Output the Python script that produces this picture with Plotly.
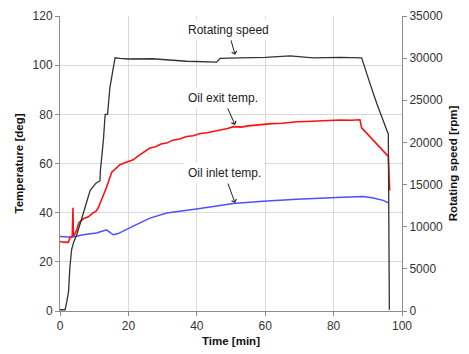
import plotly.graph_objects as go

# Rotating speed [rpm] (right axis)
speed_t = [0, 1.5, 2.0, 2.5, 2.9, 3.4, 4.0, 4.9, 6.0, 6.8, 8.0, 8.8, 10.5, 11.7, 11.8, 12.7, 13.2, 13.9,
           14.6, 15.3, 15.6, 16.1, 17.5, 20, 27, 37, 45.8, 46.8, 52.6, 60, 67.3, 74, 81.9, 88.2, 90.6,
           92.6, 95.5, 96.0, 96.3]
speed_rpm = [150, 150, 1140, 2330, 5250, 7290, 8170, 9040, 10500, 11670, 13130, 14290, 15170, 15460,
             16630, 20300, 23330, 23330, 26540, 28290, 28880, 30040, 29980, 29900, 29930, 29630, 29520,
             29980, 30040, 30100, 30280, 30040, 30100, 30040, 27040, 24650, 21500, 21000, 150]

# Oil exit temperature [deg]
exit_t = [0, 1, 2.4, 3.0, 3.6, 3.8, 3.9, 4.2, 4.9, 5.5, 6.8, 8.3, 9.7, 10.5, 11.2, 12.7, 13.6, 15.1, 15.6,
          16.5, 17.5, 19, 21.4, 23, 24.5, 26.3, 28, 29.5, 31.2, 33, 35, 37, 39, 41, 43, 44.8, 47, 49, 50.7,
          53, 55, 57, 59.4, 62, 65, 67, 69.2, 72, 75, 77, 79, 82, 85, 87.7, 88.2, 90.6, 93.6, 95.5, 96, 96.4]
exit_temp = [28.3, 28, 27.9, 30, 30.5, 42, 30.5, 31, 33, 35.8, 37.5, 38.3, 40, 40.5, 42, 46.8, 50.2, 56.4, 57,
             58.2, 59.5, 60.3, 61.5, 63.2, 64.5, 66.3, 66.8, 67.9, 68.3, 69.5, 70, 71, 71.3, 72.2, 72.5, 73,
             73.6, 74.2, 75, 74.8, 75.3, 75.6, 75.7, 76.2, 76.4, 76.8, 77, 77.1, 77.3, 77.6, 77.5, 77.7, 77.6,
             77.8, 74.5, 71, 66.3, 63.5, 62.9, 49]

# Oil inlet temperature [deg]
inlet_t = [0, 3.4, 6.8, 10.7, 13.6, 14.5, 15.6, 17, 19, 21.4, 26.3, 31.2, 39.9, 50.7, 59.4, 69.2, 80.9,
           88.7, 91.6, 94.5, 96]
inlet_temp = [30.3, 30, 31, 31.7, 33, 32, 31, 31.5, 33, 34.5, 37.8, 39.9, 41.5, 43.7, 44.6, 45.5, 46.2,
              46.6, 46, 45, 44]

temp_ticks = [0, 20, 40, 60, 80, 100, 120]
speed_ticks = [0, 5000, 10000, 15000, 20000, 25000, 30000, 35000]
time_ticks = [0, 20, 40, 60, 80, 100]

FONT = "Liberation Sans, Arial, sans-serif"

fig = go.Figure()
fig.add_trace(go.Scatter(x=speed_t, y=speed_rpm, mode="lines", yaxis="y2",
                         line=dict(color="#333333", width=1.3), name="Rotating speed"))
fig.add_trace(go.Scatter(x=inlet_t, y=inlet_temp, mode="lines",
                         line=dict(color="#4f4fff", width=1.5), name="Oil inlet temp."))
fig.add_trace(go.Scatter(x=exit_t, y=exit_temp, mode="lines",
                         line=dict(color="#ff1010", width=1.6), name="Oil exit temp."))

ann_style = dict(showarrow=True, arrowhead=4, arrowsize=1, arrowwidth=1, arrowcolor="#222222",
                 font=dict(family=FONT, size=12, color="#222222"), bgcolor="white",
                 borderpad=3, xref="x", yref="y")
fig.add_annotation(x=51.2, y=104.2, ax=-7, ay=-25, text="Rotating speed", **ann_style)
fig.add_annotation(x=51.2, y=75.7, ax=-12, ay=-27, text="Oil exit temp.", **ann_style)
fig.add_annotation(x=51.2, y=43.9, ax=-11, ay=-30, text="Oil inlet temp.", **ann_style)

axis_common = dict(showline=True, linecolor="#8c8c8c", linewidth=1, ticks="outside", ticklen=4,
                   tickcolor="#8c8c8c", tickfont=dict(family=FONT, size=12, color="#333333"),
                   zeroline=False, automargin=False)
title_font = dict(family=FONT, size=11.5, color="#111111")

fig.update_layout(
    width=469, height=354,
    margin=dict(l=60, r=67, t=16, b=43),
    paper_bgcolor="white", plot_bgcolor="white",
    showlegend=False,
    xaxis=dict(range=[0, 100], tickvals=time_ticks, showgrid=True, gridcolor="#d9d9d9",
               title=dict(text="<b>Time [min]</b>", font=title_font, standoff=4),
               **axis_common),
    yaxis=dict(range=[0, 120], tickvals=temp_ticks, showgrid=True, gridcolor="#d9d9d9",
               title=dict(text="<b>Temperature [deg]</b>", font=title_font, standoff=6),
               **axis_common),
    yaxis2=dict(range=[0, 35000], tickvals=speed_ticks, tickformat="d", overlaying="y", side="right",
                showgrid=False,
                title=dict(text="<b>Rotating speed [rpm]</b>", font=title_font, standoff=6),
                **axis_common),
)

fig.write_html("out.html", config={"displayModeBar": False},
               post_script="document.body.style.margin='0';")
